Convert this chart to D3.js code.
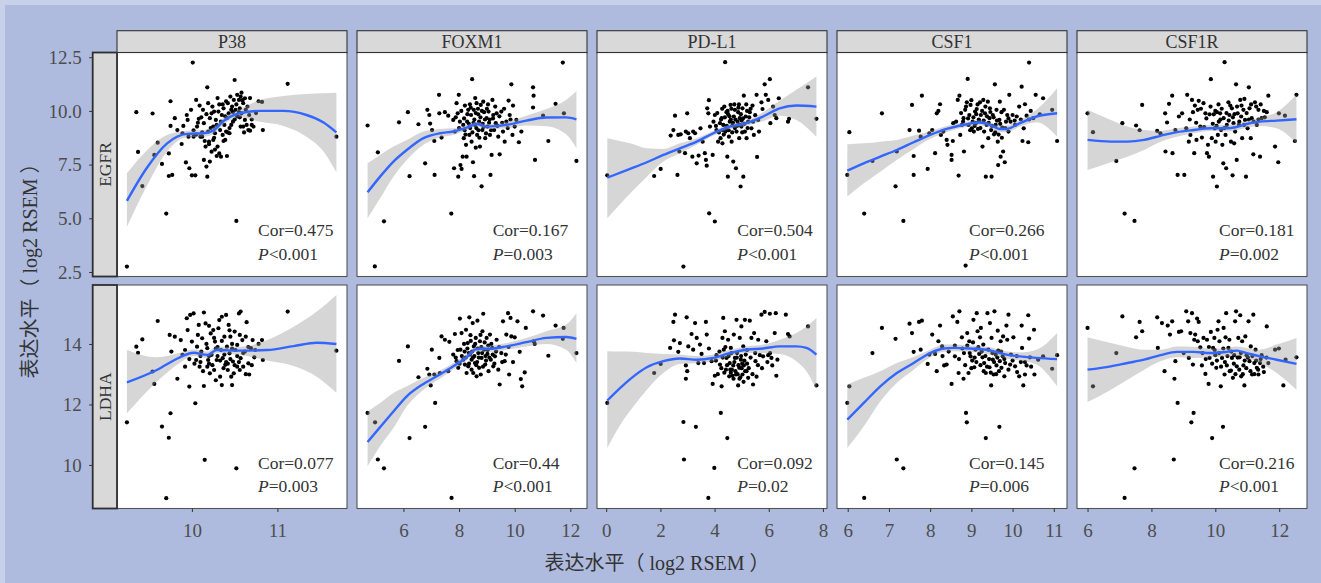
<!DOCTYPE html>
<html><head><meta charset="utf-8">
<script src="https://cdn.jsdelivr.net/npm/d3@7"></script>
<style>
html,body{margin:0;padding:0;background:#aebbde;}
svg{display:block;}
text{font-family:'Liberation Serif','Times New Roman','Noto Sans CJK SC',serif;}
</style></head>
<body>
<svg id="chart" width="1321" height="583"></svg>
<script>
// ---------------- DATA ----------------
const genes = ["P38","FOXM1","PD-L1","CSF1","CSF1R"];
const targets = ["EGFR","LDHA"];
const axisTitle = "表达水平（ log2 RSEM ）";
const yTicksEGFR = [2.5,5.0,7.5,10.0,12.5];
const yTicksLDHA = [10,12,14];
const xTicksP38 = [10,11];
const xTicksFOXM1 = [6,8,10,12];
const xTicksPDL1 = [0,2,4,6,8];
const xTicksCSF1 = [6,7,8,9,10,11];
const xTicksCSF1R = [6,8,10,12];
const corEGFR = ["Cor=0.475","Cor=0.167","Cor=0.504","Cor=0.266","Cor=0.181"];
const pEGFR   = ["<0.001","=0.003","<0.001","<0.001","=0.002"];
const corLDHA = ["Cor=0.077","Cor=0.44","Cor=0.092","Cor=0.145","Cor=0.216"];
const pLDHA   = ["=0.003","<0.001","=0.02","=0.006","<0.001"];

// scatter points [gene expression, target expression]
const egfr_P38 = [[9.24,2.75],[9.35,9.94],[9.37,8.09],[9.42,6.5],[9.54,9.88],[9.56,7.95],[9.6,8.52],[9.65,7.53],[9.7,5.22],[9.73,8.02],[9.73,6.97],[9.77,7.02],[9.75,10.45],[9.75,9.3],[9.8,9.66],[9.83,9.11],[9.88,8.46],[9.89,8.96],[9.93,7.6],[9.94,9.81],[9.95,9.58],[9.97,7.33],[9.99,10.05],[10.01,12.25],[10.0,7.0],[10.04,7.0],[10.05,10.51],[10.02,8.8],[10.06,9.27],[10.08,9.63],[10.1,8.8],[10.12,8.8],[10.13,10.05],[10.14,9.43],[10.14,7.72],[10.16,8.34],[10.17,7.41],[10.18,6.94],[10.18,11.1],[10.19,10.36],[10.19,9.04],[10.2,8.57],[10.21,7.64],[10.21,9.66],[10.23,8.1],[10.23,9.89],[10.25,9.27],[10.25,8.65],[10.26,9.97],[10.27,8.96],[10.28,9.58],[10.29,7.9],[10.3,8.34],[10.31,9.97],[10.32,8.02],[10.33,9.11],[10.34,7.87],[10.35,9.81],[10.36,8.88],[10.37,10.12],[10.38,9.35],[10.39,8.65],[10.4,9.04],[10.41,9.66],[10.41,7.9],[10.42,10.36],[10.43,9.89],[10.44,8.96],[10.45,10.67],[10.46,9.35],[10.47,10.2],[10.48,9.5],[10.49,10.51],[10.5,11.44],[10.51,10.05],[10.52,4.88],[10.53,10.75],[10.53,9.74],[10.55,10.51],[10.56,10.12],[10.57,10.67],[10.57,9.27],[10.58,9.89],[10.6,10.36],[10.6,9.27],[10.62,10.59],[10.62,9.58],[10.63,10.05],[10.64,9.35],[10.66,9.11],[10.67,9.81],[10.68,9.08],[10.7,9.35],[10.72,9.27],[10.78,10.45],[10.82,10.42],[10.83,9.11],[11.12,11.26],[11.69,8.8],[10.05,8.9],[10.12,9.0],[10.2,8.45],[10.27,8.2],[10.44,9.2],[10.48,9.95],[10.36,10.3],[10.55,9.95],[10.02,9.1],[10.07,9.45],[10.11,9.7],[10.15,8.6],[10.17,9.85],[10.22,9.2],[10.24,10.2],[10.26,8.75],[10.29,9.35],[10.32,10.3],[10.34,9.5],[10.37,8.6],[10.39,9.75],[10.42,9.0],[10.46,10.05],[10.5,9.6],[10.52,10.3],[10.56,9.7],[10.59,10.5],[10.61,9.0],[10.65,10.2],[10.68,10.6],[10.7,9.6],[10.75,9.9],[9.9,9.3],[9.96,8.8],[10.09,10.25],[10.3,10.6],[10.4,10.45],[10.58,10.85]];
const ldha_P38 = [[9.24,11.41],[9.35,13.91],[9.37,13.71],[9.42,14.15],[9.54,13.09],[9.56,12.68],[9.6,14.76],[9.65,11.27],[9.7,8.9],[9.73,10.9],[9.75,11.71],[9.74,14.3],[9.76,13.75],[9.8,14.24],[9.83,12.85],[9.87,14.13],[9.89,13.64],[9.92,13.25],[9.94,14.85],[9.95,14.46],[9.97,12.59],[9.98,14.96],[10.0,14.08],[10.02,15.01],[10.04,12.04],[10.05,13.47],[10.06,13.91],[10.08,14.63],[10.09,13.25],[10.12,14.19],[10.14,15.04],[10.14,12.61],[10.15,10.17],[10.16,14.68],[10.18,13.25],[10.18,13.86],[10.19,13.47],[10.21,13.03],[10.22,14.35],[10.23,13.64],[10.25,14.46],[10.26,13.14],[10.27,14.08],[10.29,13.47],[10.31,14.52],[10.32,14.79],[10.33,12.92],[10.34,13.8],[10.35,12.64],[10.36,13.53],[10.38,14.24],[10.39,13.31],[10.4,14.96],[10.41,13.91],[10.42,13.14],[10.43,14.63],[10.44,13.69],[10.45,14.24],[10.46,12.92],[10.47,12.64],[10.48,13.42],[10.49,13.03],[10.5,14.41],[10.51,13.8],[10.52,9.89],[10.53,13.25],[10.53,13.97],[10.55,15.01],[10.56,13.14],[10.57,15.07],[10.57,13.53],[10.59,14.13],[10.6,13.25],[10.62,13.75],[10.63,14.24],[10.64,14.72],[10.66,13.36],[10.67,12.99],[10.69,13.86],[10.71,14.13],[10.73,13.56],[10.78,14.0],[10.82,14.13],[10.83,13.47],[11.12,15.07],[11.69,13.78],[10.1,13.6],[10.2,13.35],[10.3,13.6],[10.37,13.2],[10.45,13.5],[10.55,13.4],[10.28,13.85],[10.4,13.4],[9.92,13.8],[9.97,13.5],[10.03,13.35],[10.07,14.3],[10.11,13.75],[10.13,13.1],[10.17,14.0],[10.2,13.6],[10.24,13.3],[10.26,14.2],[10.3,13.9],[10.33,13.45],[10.35,14.1],[10.38,13.65],[10.42,13.35],[10.44,14.45],[10.47,13.85],[10.5,13.3],[10.53,13.6],[10.56,14.3],[10.6,13.7],[10.63,13.0],[10.66,13.9],[10.7,13.3],[10.74,13.8],[10.2,14.6],[10.35,14.9],[10.47,14.0],[10.1,13.4],[10.28,12.8]];
const egfr_FOXM1 = [[4.71,9.32],[4.97,2.76],[5.08,8.07],[5.3,4.86],[5.84,9.47],[6.16,9.94],[6.22,6.96],[6.54,9.38],[6.78,7.56],[6.86,10.05],[6.93,9.81],[6.96,9.41],[7.03,9.11],[7.12,7.02],[7.11,8.6],[7.28,10.75],[7.29,9.89],[7.37,8.76],[7.49,9.94],[7.61,9.78],[7.72,5.22],[7.79,9.58],[7.82,7.33],[7.85,9.04],[7.91,10.36],[7.95,9.89],[7.97,6.94],[7.99,10.75],[8.03,9.5],[8.05,7.48],[8.09,7.3],[8.13,7.87],[8.15,9.35],[8.17,8.73],[8.21,10.25],[8.25,8.42],[8.27,7.87],[8.29,9.5],[8.33,10.05],[8.37,8.88],[8.39,10.31],[8.43,9.81],[8.45,8.57],[8.47,11.48],[8.5,7.61],[8.53,10.05],[8.54,6.96],[8.57,9.35],[8.6,8.29],[8.63,10.36],[8.65,8.88],[8.69,9.84],[8.72,9.5],[8.75,8.34],[8.78,10.28],[8.81,6.49],[8.84,9.11],[8.87,10.43],[8.9,9.94],[8.94,8.73],[8.99,9.66],[9.02,9.27],[9.06,9.97],[9.11,8.88],[9.13,7.02],[9.17,7.95],[9.2,10.51],[9.23,9.81],[9.26,9.11],[9.32,9.43],[9.35,9.89],[9.41,8.8],[9.46,7.98],[9.52,9.97],[9.58,9.04],[9.64,8.57],[9.7,9.5],[9.78,10.48],[9.82,9.81],[9.88,11.24],[9.92,8.88],[9.94,10.25],[10.0,9.27],[10.06,9.58],[10.15,8.54],[10.24,9.04],[10.66,11.1],[10.68,10.71],[10.66,10.16],[10.73,7.72],[11.02,9.78],[11.21,8.6],[11.47,10.33],[11.73,12.25],[11.77,9.89],[12.22,7.67],[8.4,9.2],[8.55,9.6],[8.7,9.1],[8.85,9.4],[9.0,10.1],[8.2,9.1],[8.6,9.9],[9.1,9.6],[7.88,9.7],[8.0,9.2],[8.08,10.0],[8.18,9.65],[8.23,8.9],[8.3,9.85],[8.35,9.4],[8.42,10.15],[8.48,9.0],[8.52,9.45],[8.58,10.6],[8.62,9.2],[8.68,10.1],[8.73,8.75],[8.77,9.7],[8.82,10.0],[8.88,9.25],[8.93,9.6],[8.97,8.95],[9.04,10.3],[9.08,9.45],[9.15,9.1],[9.22,9.65],[9.3,10.2],[9.38,9.3],[9.45,9.75],[9.55,9.45],[9.62,10.1],[9.75,9.2],[9.85,9.6]];
const ldha_FOXM1 = [[4.71,11.72],[4.98,11.41],[5.08,10.18],[5.3,9.89],[5.84,13.44],[6.16,13.92],[6.22,10.89],[6.54,12.9],[6.78,11.26],[6.86,13.18],[6.93,12.99],[6.98,12.63],[7.02,13.81],[7.14,12.05],[7.11,12.99],[7.29,13.54],[7.31,13.04],[7.37,14.25],[7.49,14.14],[7.61,13.1],[7.73,8.91],[7.65,14.07],[7.79,13.65],[7.85,14.33],[7.91,13.43],[7.97,13.21],[8.03,14.84],[8.05,13.81],[8.09,14.36],[8.15,13.48],[8.21,13.32],[8.25,14.47],[8.27,13.04],[8.31,14.03],[8.33,13.26],[8.37,14.88],[8.39,13.65],[8.41,14.29],[8.45,13.48],[8.49,14.69],[8.51,13.04],[8.53,13.92],[8.57,13.37],[8.6,14.2],[8.63,12.93],[8.66,14.77],[8.69,13.7],[8.72,13.21],[8.75,14.09],[8.78,12.99],[8.81,13.54],[8.84,14.42],[8.87,15.0],[8.9,13.81],[8.94,13.32],[8.99,14.2],[9.02,13.67],[9.06,13.1],[9.11,14.31],[9.14,13.48],[9.19,13.87],[9.23,13.26],[9.29,13.59],[9.35,14.14],[9.41,13.15],[9.46,12.66],[9.52,13.7],[9.58,14.75],[9.64,13.43],[9.7,14.31],[9.76,15.02],[9.8,12.99],[9.85,14.86],[9.88,14.25],[9.94,13.4],[10.0,14.22],[10.1,14.75],[10.18,13.74],[10.22,12.84],[10.27,12.6],[10.36,13.06],[10.4,14.53],[10.66,15.08],[10.68,14.09],[10.72,14.0],[11.02,14.94],[11.21,13.61],[11.47,14.61],[11.76,14.53],[11.73,14.17],[12.22,13.7],[8.35,13.7],[8.5,13.55],[8.65,13.4],[8.8,13.9],[8.95,13.6],[8.2,13.75],[9.05,13.95],[8.45,13.15],[7.88,13.55],[7.95,13.8],[8.02,13.35],[8.1,13.6],[8.18,14.0],[8.24,13.55],[8.3,13.85],[8.36,13.35],[8.42,14.1],[8.47,13.75],[8.55,13.6],[8.58,14.0],[8.62,13.3],[8.67,13.85],[8.71,13.55],[8.77,14.3],[8.83,13.7],[8.86,13.25],[8.92,14.05],[8.97,13.45],[9.03,13.8],[9.09,13.55],[9.16,14.0],[9.21,13.65],[9.27,13.35],[9.33,13.75],[9.44,13.9],[9.55,13.4],[9.68,13.65],[9.78,13.9]];
const egfr_PDL1 = [[0.04,7.0],[1.77,6.97],[2.01,7.3],[2.38,8.85],[2.48,9.11],[2.54,9.78],[2.63,7.02],[2.66,8.88],[2.7,8.11],[2.75,8.91],[2.85,2.75],[2.91,8.03],[2.94,9.04],[2.99,9.89],[3.03,8.96],[3.09,8.73],[3.18,7.87],[3.21,9.04],[3.28,8.96],[3.34,7.56],[3.41,7.92],[3.48,9.19],[3.56,8.57],[3.64,8.03],[3.68,7.72],[3.71,7.45],[3.73,10.12],[3.77,9.89],[3.79,10.5],[3.83,9.27],[3.8,5.23],[3.93,7.95],[4.01,4.85],[4.01,9.81],[4.07,9.11],[4.13,8.57],[4.2,9.43],[4.22,8.73],[4.26,9.66],[4.29,8.49],[4.32,9.35],[4.36,10.2],[4.39,12.27],[4.4,9.04],[4.44,9.94],[4.47,7.87],[4.49,6.94],[4.53,8.8],[4.56,9.5],[4.59,10.28],[4.63,8.57],[4.66,9.32],[4.69,7.64],[4.71,9.74],[4.75,10.05],[4.79,7.33],[4.81,9.04],[4.85,9.5],[4.87,9.94],[4.91,8.73],[4.93,9.66],[4.96,6.48],[4.99,9.27],[5.03,10.12],[5.06,6.94],[5.08,10.71],[5.12,9.04],[5.15,9.74],[5.18,8.73],[5.24,9.5],[5.3,9.94],[5.36,9.19],[5.4,10.25],[5.45,8.88],[5.55,10.75],[5.57,7.86],[5.61,9.58],[5.64,9.04],[5.73,10.4],[5.77,10.09],[5.85,11.24],[5.89,10.75],[5.98,10.51],[6.04,11.48],[6.06,9.43],[6.16,10.2],[6.22,9.81],[6.28,9.66],[6.37,10.59],[6.71,9.5],[6.75,9.63],[7.45,11.1],[7.76,9.63],[4.3,9.1],[4.45,9.3],[4.6,9.6],[4.75,9.2],[4.9,10.3],[5.0,9.55],[4.5,9.85],[5.2,10.0],[3.96,9.5],[4.05,9.3],[4.1,9.9],[4.16,9.0],[4.24,9.6],[4.28,10.1],[4.34,8.9],[4.38,9.7],[4.42,9.2],[4.48,10.0],[4.52,9.1],[4.55,9.75],[4.62,10.1],[4.65,9.0],[4.68,9.45],[4.73,10.3],[4.77,9.6],[4.83,9.3],[4.88,10.15],[4.92,9.35],[4.97,9.85],[5.02,9.0],[5.05,9.65],[5.1,9.4],[5.17,10.3],[5.22,9.2],[5.28,9.7],[5.33,10.1],[5.42,9.5],[5.5,9.8]];
const ldha_PDL1 = [[0.04,12.05],[1.77,13.04],[2.01,13.34],[2.36,13.87],[2.48,14.73],[2.54,14.97],[2.5,14.12],[2.66,13.74],[2.72,14.03],[2.85,11.42],[2.87,10.18],[2.94,12.85],[2.97,14.88],[2.99,13.1],[2.94,13.29],[3.03,13.92],[3.15,14.33],[3.21,13.81],[3.28,14.69],[3.31,11.26],[3.34,14.2],[3.4,13.37],[3.46,13.98],[3.52,13.67],[3.61,13.37],[3.68,14.73],[3.71,14.31],[3.77,8.91],[3.79,13.85],[3.89,13.43],[3.93,12.68],[3.99,9.9],[4.01,12.95],[4.07,13.63],[4.2,13.32],[4.23,11.72],[4.26,12.6],[4.29,14.2],[4.32,14.86],[4.34,13.81],[4.38,14.42],[4.42,13.15],[4.44,13.54],[4.47,10.89],[4.5,14.14],[4.54,12.93],[4.56,13.37],[4.6,13.87],[4.64,13.15],[4.69,13.29],[4.71,14.31],[4.75,13.54],[4.79,12.99],[4.81,14.8],[4.83,13.7],[4.87,12.63],[4.91,13.21],[4.93,14.2],[4.97,13.48],[4.99,14.58],[5.03,12.99],[5.06,13.92],[5.08,13.29],[5.12,14.8],[5.15,13.65],[5.18,13.1],[5.24,12.88],[5.3,14.77],[5.36,14.2],[5.42,12.66],[5.46,14.36],[5.51,13.43],[5.55,12.92],[5.61,14.14],[5.67,13.63],[5.73,14.97],[5.79,13.59],[5.85,15.06],[5.91,14.09],[5.98,13.63],[6.04,15.0],[6.1,13.54],[6.13,13.29],[6.22,14.36],[6.26,15.02],[6.28,12.95],[6.32,13.48],[6.63,14.97],[6.71,14.33],[6.77,14.25],[7.45,14.58],[7.76,12.63],[4.6,13.05],[4.85,13.0],[5.0,13.2],[4.95,12.9],[5.1,13.45],[4.7,12.85],[5.2,13.35],[4.05,13.45],[4.12,13.0],[4.18,13.75],[4.25,13.2],[4.3,13.55],[4.36,13.05],[4.4,13.9],[4.46,13.3],[4.52,13.6],[4.58,13.15],[4.62,13.7],[4.66,12.95],[4.73,13.4],[4.77,13.1],[4.82,13.55],[4.88,13.3],[4.92,12.85],[4.98,13.6],[5.02,13.35],[5.07,12.75],[5.13,13.1],[5.2,13.8],[5.26,13.2],[5.33,13.55],[5.4,13.0],[5.5,13.7],[5.6,13.3],[5.75,13.2],[5.95,13.4],[6.05,13.7]];
const egfr_CSF1 = [[5.99,7.02],[6.04,9.01],[6.4,5.22],[6.6,7.67],[6.83,9.89],[7.16,6.49],[7.19,8.11],[7.35,4.88],[7.5,9.11],[7.56,10.28],[7.6,7.9],[7.6,7.02],[7.73,9.08],[7.77,8.8],[7.8,10.71],[7.94,7.3],[7.98,8.96],[8.05,9.11],[8.12,8.03],[8.16,9.89],[8.2,10.0],[8.24,10.31],[8.26,8.88],[8.32,9.04],[8.4,8.65],[8.42,8.42],[8.52,7.95],[8.52,7.72],[8.55,8.6],[8.56,9.43],[8.63,9.5],[8.67,10.51],[8.69,6.99],[8.71,10.71],[8.73,8.88],[8.77,9.35],[8.81,9.66],[8.82,8.11],[8.85,10.05],[8.86,2.8],[8.89,10.4],[8.91,11.49],[8.93,9.35],[8.95,9.81],[8.98,10.28],[9.01,9.19],[9.03,9.5],[9.06,9.04],[9.09,9.97],[9.11,9.43],[9.13,10.09],[9.16,9.16],[9.19,9.53],[9.21,10.4],[9.23,9.81],[9.27,8.34],[9.29,10.51],[9.31,9.04],[9.33,9.89],[9.35,6.94],[9.37,9.35],[9.4,10.43],[9.41,8.73],[9.44,9.66],[9.45,10.12],[9.48,9.11],[9.49,6.94],[9.52,9.81],[9.55,8.91],[9.57,11.24],[9.59,9.35],[9.61,10.05],[9.64,8.57],[9.65,7.48],[9.68,9.58],[9.69,10.43],[9.71,7.87],[9.73,9.94],[9.75,9.22],[9.77,8.11],[9.79,10.05],[9.81,7.61],[9.84,9.5],[9.87,9.81],[9.9,9.04],[9.92,10.75],[9.95,9.5],[10.0,9.81],[10.06,9.35],[10.1,9.74],[10.16,10.2],[10.22,11.13],[10.24,8.6],[10.27,9.19],[10.3,10.31],[10.34,9.78],[10.38,8.54],[10.4,12.25],[10.44,10.0],[10.5,9.66],[10.56,10.75],[10.66,9.84],[10.74,10.59],[10.96,10.05],[11.08,8.6],[8.75,9.9],[8.8,9.5],[8.87,10.2],[8.92,9.65],[8.97,9.1],[9.0,10.5],[9.05,9.7],[9.08,9.3],[9.12,9.85],[9.15,10.3],[9.18,9.6],[9.22,9.2],[9.26,10.0],[9.3,9.55],[9.34,10.2],[9.38,9.75],[9.42,9.45],[9.46,9.95],[9.5,9.3],[9.54,9.7],[9.58,9.0],[9.62,9.55],[9.66,8.9],[9.7,9.4],[9.74,8.75],[9.82,9.2],[9.9,9.65],[10.05,9.55],[10.2,9.6],[10.4,9.6]];
const ldha_CSF1 = [[5.99,12.05],[6.04,12.6],[6.4,8.91],[6.6,13.7],[6.83,14.53],[7.16,14.17],[7.19,10.18],[7.35,9.89],[7.5,14.67],[7.56,14.36],[7.6,13.74],[7.73,14.73],[7.77,13.81],[7.8,14.77],[7.94,13.34],[7.98,13.65],[8.05,14.31],[8.12,13.67],[8.16,13.1],[8.2,14.09],[8.24,14.61],[8.29,13.92],[8.34,13.29],[8.4,13.32],[8.52,12.68],[8.55,14.91],[8.6,13.59],[8.66,14.73],[8.69,13.04],[8.71,15.08],[8.77,14.22],[8.81,12.85],[8.82,13.7],[8.87,11.72],[8.89,11.41],[8.9,14.36],[8.93,13.04],[8.95,14.09],[8.98,13.59],[9.02,13.45],[9.05,14.8],[9.07,13.23],[9.1,13.81],[9.13,15.02],[9.15,14.42],[9.19,13.67],[9.21,14.22],[9.23,14.53],[9.27,13.56],[9.29,13.98],[9.31,13.37],[9.35,10.89],[9.35,13.04],[9.39,15.02],[9.41,13.81],[9.44,13.23],[9.45,14.69],[9.48,12.63],[9.49,14.2],[9.52,13.48],[9.54,12.99],[9.56,15.08],[9.59,13.65],[9.61,13.29],[9.64,14.44],[9.65,13.78],[9.68,11.26],[9.69,13.43],[9.71,14.09],[9.73,13.21],[9.76,13.59],[9.77,14.25],[9.8,12.93],[9.82,13.37],[9.85,14.61],[9.87,14.14],[9.9,14.97],[9.94,13.32],[9.96,13.65],[10.02,14.22],[10.06,13.26],[10.11,13.07],[10.16,12.93],[10.2,13.4],[10.22,14.61],[10.23,13.87],[10.26,12.63],[10.3,12.99],[10.34,13.29],[10.38,14.95],[10.4,14.18],[10.42,13.56],[10.52,14.47],[10.53,12.99],[10.62,13.48],[10.74,13.59],[10.96,13.18],[11.08,13.63],[8.3,13.6],[8.45,13.75],[8.6,13.95],[8.7,13.5],[8.78,13.85],[8.85,13.3],[8.9,13.95],[8.96,13.7],[9.0,13.2],[9.04,14.05],[9.08,13.55],[9.12,13.4],[9.17,13.9],[9.22,13.3],[9.25,13.75],[9.3,13.1],[9.34,13.6],[9.38,13.25],[9.43,13.5],[9.47,13.05],[9.51,13.7],[9.55,13.4],[9.6,13.0],[9.63,13.55],[9.67,13.1],[9.72,13.75],[9.8,13.5],[9.9,13.15],[10.0,13.45],[10.1,13.6],[10.3,13.4],[10.45,13.25]];
const egfr_CSF1R = [[6.0,9.89],[6.17,9.01],[6.9,7.67],[7.09,9.43],[7.16,5.22],[7.47,4.88],[7.52,9.32],[7.63,9.1],[7.71,10.28],[8.18,9.07],[8.28,8.96],[8.43,9.89],[8.44,8.11],[8.49,9.46],[8.55,10.33],[8.65,10.71],[8.66,8.03],[8.75,9.11],[8.82,7.02],[8.86,9.74],[8.96,9.89],[9.03,7.02],[9.09,9.19],[9.12,10.75],[9.17,8.57],[9.22,8.88],[9.27,10.51],[9.3,9.94],[9.34,8.03],[9.36,10.25],[9.41,8.65],[9.45,10.05],[9.48,10.47],[9.53,9.27],[9.58,8.76],[9.63,10.36],[9.69,9.89],[9.74,8.03],[9.77,8.42],[9.8,7.87],[9.82,9.84],[9.86,11.48],[9.89,8.73],[9.93,6.94],[9.95,9.84],[9.98,9.19],[10.01,8.57],[10.05,6.48],[10.05,9.94],[10.08,8.88],[10.11,9.5],[10.15,9.89],[10.18,9.11],[10.22,8.42],[10.25,7.56],[10.26,9.66],[10.29,12.27],[10.32,8.88],[10.34,7.33],[10.36,9.35],[10.41,10.4],[10.44,9.81],[10.49,8.57],[10.52,10.12],[10.54,7.0],[10.57,9.43],[10.59,8.49],[10.62,9.04],[10.65,11.24],[10.67,7.72],[10.7,9.89],[10.74,9.35],[10.78,10.51],[10.81,9.74],[10.84,8.73],[10.88,10.05],[10.91,10.56],[10.93,9.58],[10.96,6.94],[11.01,9.19],[11.05,11.1],[11.07,10.12],[11.11,8.73],[11.14,9.66],[11.19,7.98],[11.24,10.4],[11.3,9.35],[11.35,10.05],[11.4,7.87],[11.45,9.66],[11.52,10.0],[11.61,9.94],[11.66,10.71],[11.87,8.34],[11.97,7.61],[11.99,9.89],[12.18,9.78],[12.54,10.75],[12.49,8.6],[9.2,9.6],[9.4,9.45],[9.55,10.1],[9.65,9.25],[9.72,9.65],[9.85,10.2],[9.92,9.4],[10.0,10.0],[10.04,9.3],[10.1,10.3],[10.16,9.6],[10.2,10.1],[10.28,9.2],[10.35,9.9],[10.42,9.55],[10.47,10.25],[10.55,9.7],[10.6,9.85],[10.68,10.2],[10.75,9.5],[10.82,10.25],[10.9,9.35],[10.98,9.9],[11.05,9.6],[11.12,10.3],[11.2,9.5],[11.28,10.2],[11.35,9.6],[11.42,10.3],[11.55,9.7]];
const ldha_CSF1R = [[6.0,14.53],[6.17,12.6],[6.9,13.7],[7.09,14.91],[7.16,8.91],[7.47,9.89],[7.52,14.22],[7.63,14.73],[7.71,14.42],[8.18,14.88],[8.2,13.87],[8.33,14.69],[8.41,13.1],[8.51,14.61],[8.58,14.31],[8.65,14.75],[8.7,10.18],[8.72,12.85],[8.75,13.43],[8.82,12.05],[8.86,14.4],[8.93,14.42],[9.01,13.7],[9.09,15.08],[9.15,14.75],[9.17,13.54],[9.22,14.36],[9.25,11.41],[9.27,15.02],[9.3,13.32],[9.32,11.72],[9.34,14.14],[9.37,14.31],[9.43,14.84],[9.45,14.09],[9.48,14.73],[9.53,13.89],[9.58,13.29],[9.63,14.2],[9.69,13.01],[9.74,14.14],[9.79,12.68],[9.82,13.54],[9.86,14.4],[9.9,10.89],[9.93,13.87],[9.97,14.2],[10.0,13.63],[10.03,13.21],[10.07,14.47],[10.1,14.75],[10.13,14.09],[10.17,12.6],[10.21,13.54],[10.24,11.26],[10.26,14.53],[10.29,12.99],[10.32,14.22],[10.34,15.02],[10.36,13.29],[10.41,13.87],[10.44,14.14],[10.49,13.12],[10.52,13.54],[10.55,12.88],[10.59,13.63],[10.62,14.75],[10.65,15.08],[10.67,13.26],[10.72,14.2],[10.76,13.56],[10.78,14.95],[10.81,12.93],[10.84,14.09],[10.88,13.29],[10.91,12.63],[10.94,14.25],[10.98,13.63],[11.04,14.75],[11.07,13.43],[11.11,13.92],[11.15,12.99],[11.19,14.97],[11.22,13.37],[11.26,13.81],[11.3,13.21],[11.35,12.99],[11.4,13.37],[11.45,13.63],[11.52,13.07],[11.61,14.58],[11.66,13.37],[11.87,13.81],[11.99,13.85],[12.13,12.63],[12.2,13.48],[12.54,13.56],[9.6,13.7],[9.7,13.5],[9.8,13.9],[9.9,13.35],[9.98,13.8],[10.05,13.45],[10.12,13.7],[10.18,13.25],[10.25,13.85],[10.3,13.4],[10.38,13.6],[10.45,13.1],[10.5,13.75],[10.58,13.35],[10.63,13.0],[10.7,13.55],[10.75,13.15],[10.8,13.7],[10.86,13.0],[10.92,13.45],[10.97,13.2],[11.02,13.55],[11.1,13.1],[11.16,13.6],[11.22,13.0],[11.28,13.45],[11.34,13.15],[11.42,13.5],[11.5,13.25],[11.6,13.55]];

// loess fit: [x, fit, lower, upper]
const fit_egfr_P38 = [[9.24,5.81,4.61,7.1],[9.47,7.33,6.48,8.15],[9.71,8.49,8.11,8.88],[9.94,8.93,8.77,9.08],[10.14,8.96,8.8,9.11],[10.25,9.08,8.93,9.24],[10.37,9.53,9.36,9.7],[10.56,9.89,9.7,10.08],[10.8,10.0,9.49,10.51],[11.07,10.0,9.3,10.7],[11.34,9.81,8.8,10.79],[11.54,9.46,8.11,10.82],[11.69,9.0,7.14,10.85]];
const fit_ldha_P38 = [[9.24,12.73,11.71,13.8],[9.59,13.14,12.75,13.56],[9.86,13.56,13.38,13.71],[10.02,13.71,13.6,13.82],[10.18,13.64,13.53,13.75],[10.29,13.8,13.69,13.91],[10.56,13.78,13.64,13.91],[10.88,13.8,13.45,14.13],[11.19,13.93,13.27,14.57],[11.46,14.04,12.92,15.07],[11.69,14.0,12.39,15.62]];
const fit_egfr_FOXM1 = [[4.71,6.21,5.0,7.56],[5.16,6.94,5.93,7.95],[5.64,7.64,6.94,8.34],[6.12,8.18,7.72,8.65],[6.72,8.73,8.42,9.04],[7.31,8.96,8.76,9.16],[7.79,9.04,8.88,9.19],[8.27,9.22,9.1,9.35],[8.63,9.39,9.27,9.5],[8.99,9.27,9.15,9.39],[9.7,9.35,9.19,9.5],[10.42,9.55,9.32,9.78],[11.14,9.69,9.29,10.09],[11.85,9.7,8.91,10.51],[12.22,9.61,8.26,10.93]];
const fit_ldha_FOXM1 = [[4.71,10.76,9.96,11.77],[5.16,11.25,10.62,12.05],[5.64,11.77,11.22,12.38],[6.12,12.27,11.94,12.6],[6.72,12.68,12.49,12.88],[7.31,12.99,12.85,13.12],[7.79,13.26,13.15,13.37],[8.27,13.56,13.45,13.67],[8.63,13.83,13.74,13.92],[9.23,13.85,13.74,13.96],[9.7,13.92,13.81,14.03],[10.42,14.06,13.92,14.2],[11.14,14.2,14.0,14.42],[11.85,14.23,13.81,14.64],[12.22,14.17,13.37,15.02]];
const fit_egfr_PDL1 = [[0.04,6.89,5.0,8.73],[0.88,7.3,6.16,8.49],[1.5,7.61,6.94,8.26],[2.11,7.95,7.64,8.23],[2.72,8.26,8.03,8.49],[3.34,8.57,8.42,8.73],[3.95,8.96,8.84,9.07],[4.56,9.27,9.16,9.38],[5.18,9.43,9.3,9.55],[5.79,9.74,9.53,9.94],[6.4,10.12,9.78,10.47],[7.02,10.25,9.58,10.98],[7.76,10.2,8.8,11.6]];
const fit_ldha_PDL1 = [[0.04,12.13,10.56,13.76],[0.52,12.55,11.33,13.75],[1.01,12.93,11.94,13.74],[1.5,13.23,12.49,13.7],[2.11,13.43,13.04,13.67],[2.72,13.52,13.34,13.65],[3.34,13.48,13.36,13.6],[3.95,13.54,13.43,13.65],[4.56,13.7,13.59,13.81],[5.18,13.81,13.7,13.92],[5.79,13.85,13.7,13.98],[6.4,13.92,13.67,14.14],[7.02,13.92,13.43,14.36],[7.39,13.87,13.1,14.58],[7.76,13.65,12.49,14.86]];
const fit_egfr_CSF1 = [[5.99,7.22,6.01,8.45],[6.39,7.56,6.63,8.49],[6.79,7.87,7.17,8.57],[7.19,8.18,7.72,8.65],[7.6,8.54,8.23,8.85],[8.0,8.88,8.7,9.07],[8.4,9.16,9.01,9.3],[8.73,9.32,9.19,9.43],[9.21,9.46,9.32,9.58],[9.45,9.35,9.22,9.47],[9.69,9.16,9.01,9.3],[9.85,9.16,9.01,9.32],[10.18,9.43,9.27,9.58],[10.58,9.74,9.47,10.05],[11.08,9.89,8.8,11.06]];
const fit_ldha_CSF1 = [[5.99,11.5,10.56,12.66],[6.39,12.05,11.28,12.88],[6.79,12.6,12.1,13.1],[7.19,13.04,12.71,13.37],[7.6,13.37,13.15,13.57],[8.0,13.7,13.56,13.81],[8.33,13.85,13.74,13.98],[8.57,13.87,13.76,13.98],[8.97,13.85,13.74,13.95],[9.37,13.81,13.67,13.92],[9.69,13.7,13.57,13.81],[9.85,13.65,13.52,13.76],[10.18,13.59,13.45,13.72],[10.58,13.54,13.32,13.81],[11.08,13.5,12.6,14.36]];
const fit_egfr_CSF1R = [[6.0,8.65,7.25,10.05],[6.73,8.57,7.61,9.58],[7.25,8.57,7.87,9.27],[7.77,8.65,8.18,9.11],[8.28,8.84,8.57,9.07],[8.8,9.01,8.8,9.19],[9.32,9.11,8.96,9.27],[9.84,9.19,9.07,9.35],[10.36,9.19,9.04,9.35],[10.67,9.25,9.1,9.41],[10.98,9.39,9.22,9.53],[11.4,9.5,9.3,9.69],[11.92,9.55,9.19,9.94],[12.54,9.61,8.49,10.75]];
const fit_ldha_CSF1R = [[6.0,13.15,12.08,14.22],[6.73,13.26,12.49,14.03],[7.25,13.37,12.82,13.9],[7.77,13.48,13.15,13.81],[8.28,13.63,13.43,13.81],[8.8,13.74,13.56,13.92],[9.32,13.74,13.54,13.91],[9.84,13.7,13.56,13.85],[10.36,13.74,13.59,13.87],[10.67,13.78,13.63,13.92],[10.98,13.7,13.54,13.87],[11.4,13.59,13.37,13.81],[11.92,13.48,13.04,13.98],[12.54,13.34,12.49,14.2]];

// ---------------- LAYOUT ----------------
const W = 1321, H = 583;
const colLeft = [117, 357, 597, 837, 1077], panelW = 230;
const rowTop = [52.5, 285], rowBottom = [276.5, 508.5];
const xDomain = [[9.124,11.814],[4.33,12.6],[-0.34,8.15],[5.74,11.32],[5.67,12.87]];
const yDomain = [[2.29,12.72],[8.56,15.95]];
const annotOffset = [141, 135.7, 140.3, 132, 142];

const pts = [[egfr_P38,egfr_FOXM1,egfr_PDL1,egfr_CSF1,egfr_CSF1R],[ldha_P38,ldha_FOXM1,ldha_PDL1,ldha_CSF1,ldha_CSF1R]];
const fits = [[fit_egfr_P38,fit_egfr_FOXM1,fit_egfr_PDL1,fit_egfr_CSF1,fit_egfr_CSF1R],[fit_ldha_P38,fit_ldha_FOXM1,fit_ldha_PDL1,fit_ldha_CSF1,fit_ldha_CSF1R]];
const xTicks = [xTicksP38,xTicksFOXM1,xTicksPDL1,xTicksCSF1,xTicksCSF1R];
const yTicks = [yTicksEGFR,yTicksLDHA];
const cors = [corEGFR, corLDHA], ps = [pEGFR, pLDHA];

const svg = d3.select("#chart");
svg.append("rect").attr("width",W).attr("height",H).attr("fill","#aebbde");
svg.append("rect").attr("x",0).attr("y",0).attr("width",W).attr("height",5).attr("fill","#c8d1ea");
svg.append("rect").attr("x",0).attr("y",0).attr("width",5).attr("height",H).attr("fill","#c8d1ea");

const defs = svg.append("defs");
const xScales = genes.map((g,c)=>d3.scaleLinear().domain(xDomain[c]).range([colLeft[c], colLeft[c]+panelW]));
const yScales = targets.map((t,r)=>d3.scaleLinear().domain(yDomain[r]).range([rowBottom[r], rowTop[r]]));

targets.forEach((t,r)=>{
  const ys = yScales[r];
  genes.forEach((g,c)=>{
    const xs = xScales[c];
    const id = `clip${r}${c}`;
    defs.append("clipPath").attr("id",id).append("rect")
      .attr("x",colLeft[c]).attr("y",rowTop[r]).attr("width",panelW).attr("height",rowBottom[r]-rowTop[r]);
    const gp = svg.append("g");
    gp.append("rect").attr("x",colLeft[c]).attr("y",rowTop[r]).attr("width",panelW)
      .attr("height",rowBottom[r]-rowTop[r]).attr("fill","#ffffff");
    const inner = gp.append("g").attr("clip-path",`url(#${id})`);
    inner.selectAll("circle").data(pts[r][c]).join("circle")
      .attr("cx",d=>xs(d[0])).attr("cy",d=>ys(d[1])).attr("r",2.1).attr("fill","#000");
    const area = d3.area().x(d=>xs(d[0])).y0(d=>ys(d[2])).y1(d=>ys(d[3])).curve(d3.curveMonotoneX);
    inner.append("path").datum(fits[r][c]).attr("d",area).attr("fill","#999999").attr("fill-opacity",0.4);
    const line = d3.line().x(d=>xs(d[0])).y(d=>ys(d[1])).curve(d3.curveMonotoneX);
    inner.append("path").datum(fits[r][c]).attr("d",line).attr("fill","none")
      .attr("stroke","#3366ff").attr("stroke-width",2.4);
    gp.append("rect").attr("x",colLeft[c]).attr("y",rowTop[r]).attr("width",panelW)
      .attr("height",rowBottom[r]-rowTop[r]).attr("fill","none").attr("stroke","#555").attr("stroke-width",1.1);
    const ax = colLeft[c] + annotOffset[c];
    gp.append("text").attr("x",ax).attr("y",rowTop[r]+183.5).attr("font-size",17.5).attr("fill","#333").text(cors[r][c]);
    const pt = gp.append("text").attr("x",ax).attr("y",rowTop[r]+207).attr("font-size",17.5).attr("fill","#333");
    pt.append("tspan").attr("font-style","italic").text("P");
    pt.append("tspan").text(ps[r][c]);
  });
  // left strip
  svg.append("rect").attr("x",92.7).attr("y",rowTop[r]).attr("width",117-92.7).attr("height",rowBottom[r]-rowTop[r])
    .attr("fill","#d9d9d9").attr("stroke","#2f2f2f").attr("stroke-width",1.8);
  const cy = (rowTop[r]+rowBottom[r])/2;
  svg.append("text").attr("transform",`translate(${105},${cy}) rotate(-90)`).attr("text-anchor","middle")
    .attr("dominant-baseline","central").attr("font-size",17.5).attr("fill","#333").text(t);
  // y axis
  const fmt = r===0 ? d3.format(".1f") : d3.format("d");
  const yAx = svg.append("g").attr("transform","translate(92.7,0)")
    .call(d3.axisLeft(ys).tickValues(yTicks[r]).tickFormat(fmt).tickSize(3.5).tickPadding(7.5));
  yAx.select(".domain").remove();
  yAx.selectAll(".tick line").attr("stroke","#333");
  yAx.selectAll(".tick text").attr("font-size",19).attr("fill","#4d4d4d")
    .attr("font-family","'Liberation Serif','Times New Roman',serif");
});

// top strips and x axes
genes.forEach((g,c)=>{
  svg.append("rect").attr("x",colLeft[c]).attr("y",30.7).attr("width",panelW).attr("height",rowTop[0]-30.7)
    .attr("fill","#d9d9d9").attr("stroke","#333").attr("stroke-width",1.1);
  svg.append("text").attr("x",colLeft[c]+panelW/2).attr("y",(30.7+rowTop[0])/2).attr("text-anchor","middle")
    .attr("dominant-baseline","central").attr("font-size",18).attr("fill","#333").text(g);
  const xAx = svg.append("g").attr("transform",`translate(0,${rowBottom[1]})`)
    .call(d3.axisBottom(xScales[c]).tickValues(xTicks[c]).tickFormat(d3.format("d")).tickSize(3.5).tickPadding(12));
  xAx.select(".domain").remove();
  xAx.selectAll(".tick line").attr("stroke","#333");
  xAx.selectAll(".tick text").attr("font-size",19).attr("fill","#4d4d4d")
    .attr("font-family","'Liberation Serif','Times New Roman',serif");
});

// axis titles
svg.append("text").attr("x",657).attr("y",570).attr("text-anchor","middle").attr("font-size",20)
  .attr("fill","#333").text(axisTitle);
svg.append("text").attr("transform","translate(37,266) rotate(-90)").attr("text-anchor","middle")
  .attr("font-size",20).attr("fill","#333").text(axisTitle);
</script>
</body></html>
